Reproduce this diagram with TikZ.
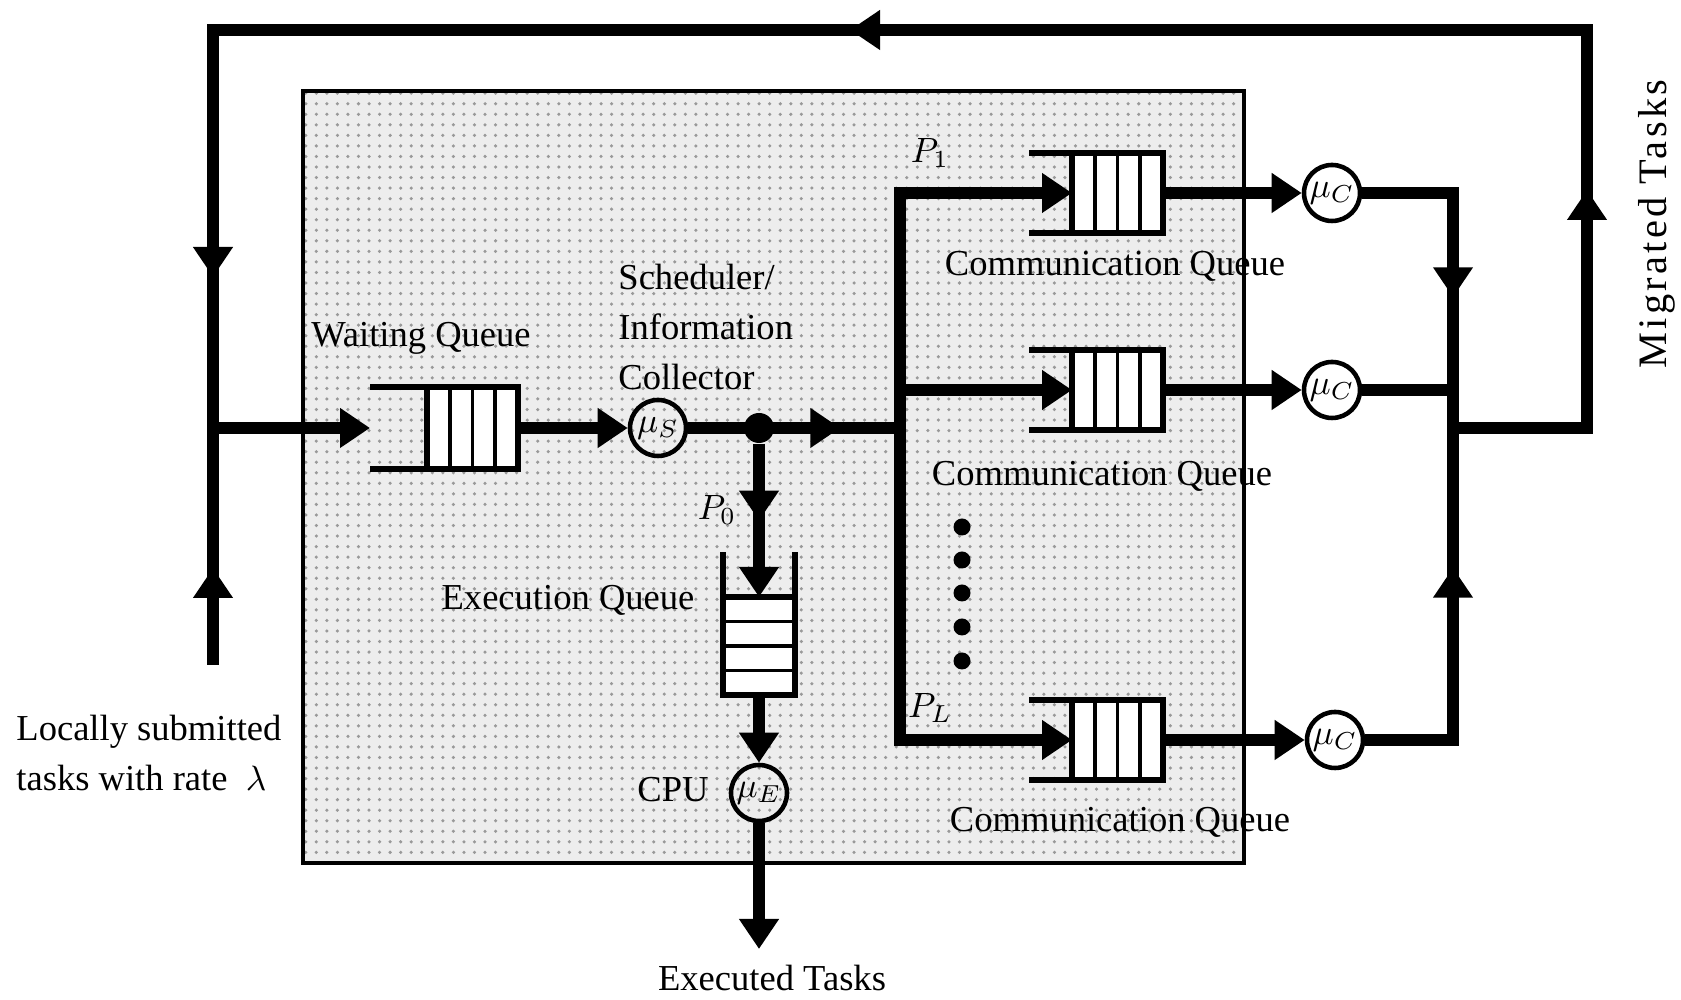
\documentclass[tikz,border=0pt]{standalone}
\usepackage{fontspec}
\setmainfont{Liberation Serif}
\usetikzlibrary{arrows.meta,patterns,decorations.markings}
\tikzset{
  flow/.style={line width=3.4pt},
  tip/.style={-{Triangle[length=3mm,width=3.8mm]}},
  tipat/.style={postaction={decorate, decoration={markings, mark=at position #1 with {\arrow{Triangle[length=3mm,width=3.8mm]}}}}},
  lbl/.style={font=\fontsize{10.4}{14.2}\selectfont},
  server/.style={circle, draw, line width=1.3pt, minimum size=5.6mm, inner sep=0pt, font=\fontsize{10.4}{12}\selectfont},
  junct/.style={circle, fill, inner sep=0pt, minimum size=3mm},
  hqueue/.style={draw, fill=white, line width=1.5pt, minimum width=9.1mm, minimum height=8mm, inner sep=0pt, outer sep=0pt,
    path picture={\foreach \k in {1,2,3}
      \draw[line width=1.1pt] ([xshift={\k*2.275mm}]path picture bounding box.south west) -- ([xshift={\k*2.275mm}]path picture bounding box.north west);}},
  vqueue/.style={draw, fill=white, line width=1.5pt, minimum width=7.2mm, minimum height=9.8mm, inner sep=0pt, outer sep=0pt,
    path picture={\foreach \k in {1,2,3}
      \draw[line width=1.1pt] ([yshift={\k*2.45mm}]path picture bounding box.south west) -- ([yshift={\k*2.45mm}]path picture bounding box.south east);}},
}

\begin{document}
\begin{tikzpicture}[x=1mm, y=1mm]
\useasboundingbox (0,0) rectangle (168.1,100);
% node boundary
\draw[line width=1pt, preaction={fill=black!7}, pattern=dots, pattern color=black!40] (30.3,13.7) rectangle (124.4,90.9);

% queues and servers
\node[hqueue, minimum height=8.2mm] (wq) at (47.25,57.2) {};
\node[server] (ss) at (65.8,57.2) {$\mu_S$};
\node[junct] (jex) at (75.9,57.2) {};
\node[vqueue] (eq) at (75.9,35.4) {};
\node[server] (se) at (75.9,20.7) {$\mu_E$};
\node[hqueue] (cq1) at (111.75,80.7) {};
\node[hqueue] (cq2) at (111.75,61.0) {};
\node[hqueue] (cqL) at (111.75,26.0) {};
\node[server] (sc1) at (133.2,80.7) {$\mu_C$};
\node[server] (sc2) at (133.2,61.0) {$\mu_C$};
\node[server] (scL) at (133.5,26.0) {$\mu_C$};
\foreach \q/\e in {wq/5.7,cq1/4.3,cq2/4.3,cqL/4.3}
  \draw[line width=1.5pt] (\q.north west) -- ++(-\e,0) (\q.south west) -- ++(-\e,0);
\draw[line width=1.5pt] (eq.north west) -- ++(0,4.5) (eq.north east) -- ++(0,4.5);

% corners and junctions
\coordinate (in) at (21.3,33.5);
\coordinate (jin) at (21.3,57.2);
\coordinate (tl) at (21.3,97.0);
\coordinate (tr) at (158.7,97.0);
\coordinate (jmig) at (158.7,57.2);
\coordinate (jcol) at (145.3,57.2);
\coordinate (jdist) at (90,57.2);
\coordinate (xout) at (75.9,5.1);

% input and migration loop
\draw[flow,tipat=9.7mm] (in) -- (jin);
\draw[flow,tipat=37.2mm,tipat=126.9mm,tipat=215.3mm] (jcol) -- (jmig) -- (tr) -- (tl) -- (jin);
\draw[flow,tip] (jin) -- ([xshift=-5.7mm]wq.west);
% scheduler and execution
\draw[flow,tip] (wq) -- (ss);
\draw[flow,tipat=15.2mm] (ss) -- (jdist);
\draw[flow,tip,tipat=7.7mm] (jex) -- (eq);
\draw[flow,tip] (eq) -- (se);
\draw[flow,tip] (se) -- (xout);
% communication branches
\draw[flow,tip] (jdist) |- (cq1);
\draw[flow,tip] (jdist |- cq2) -- (cq2);
\draw[flow,tip] (jdist) |- (cqL);
\draw[flow,tip] (cq1) -- (sc1);
\draw[flow,tip] (cq2) -- (sc2);
\draw[flow,tip] (cqL) -- (scL);
\draw[flow,tipat=19.5mm] (sc1) -| (jcol);
\draw[flow] (sc2) -- (sc2 -| jcol);
\draw[flow,tipat=26.0mm] (scL) -| (jcol);
\foreach \y in {47.3,44.0,40.7,37.3,33.9}
  \fill (96.2,\y) circle (0.85);

% labels
\node[lbl] (wql) at (42.1,66.2) {Waiting Queue};
\node[lbl, align=left, anchor=west] (schl) at (60.6,67.3) {Scheduler/\\Information\\Collector};
\node[lbl] (p0) at (71.7,49.0) {$P_0$};
\node[lbl] (eql) at (56.8,40.0) {Execution Queue};
\node[lbl] (cpu) at (67.3,21.0) {CPU};
\node[lbl] (extl) at (77.2,2.2) {Executed Tasks};
\node[lbl] (p1) at (93.0,84.7) {$P_1$};
\node[lbl] (pL) at (93.0,29.2) {$P_L$};
\node[lbl] (cql1) at (111.5,73.4) {Communication Queue};
\node[lbl] (cql2) at (110.2,52.4) {Communication Queue};
\node[lbl] (cql3) at (112.0,17.8) {Communication Queue};
\node[rotate=90, font=\fontsize{11.5}{14}\selectfont\addfontfeature{LetterSpace=8}] (migl) at (165.7,77.6) {Migrated Tasks};
\node[lbl, align=left, anchor=west] (locl) at (0.4,24.7) {Locally submitted\\tasks with rate\ \ $\lambda$};
\end{tikzpicture}
\end{document}
